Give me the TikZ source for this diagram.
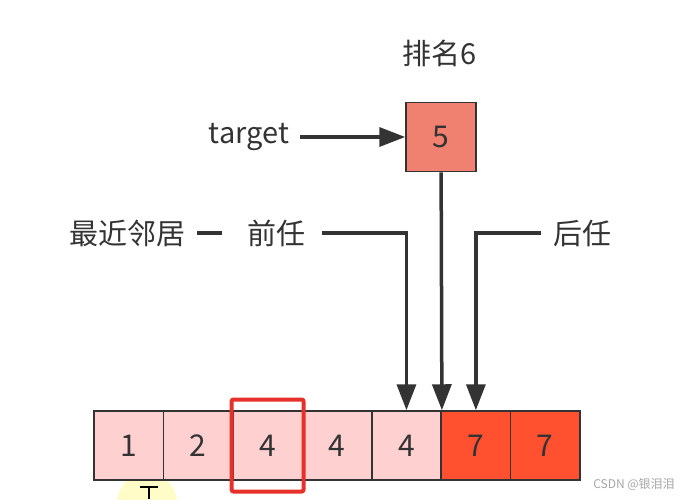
\documentclass[tikz,border=0pt]{standalone}
\usepackage{fontspec}
\setmainfont{Noto Sans CJK SC}
\usetikzlibrary{arrows.meta}
\definecolor{cellpink}{HTML}{FFD0D0}
\definecolor{cellred}{HTML}{FF5030}
\definecolor{boxsalmon}{HTML}{F08070}
\definecolor{linegray}{HTML}{333333}
\definecolor{markred}{HTML}{E8302A}
\begin{document}
\begin{tikzpicture}[x=1pt,y=-1pt,
  cell/.style={draw=linegray,line width=1.5pt,minimum width=69.4pt,minimum height=69pt,inner sep=0pt,font=\fontsize{30}{32}\selectfont,text=linegray},
  lbl/.style={font=\fontsize{29}{32}\selectfont,text=linegray,inner sep=0pt},
  conn/.style={draw=linegray,line width=3.5pt,-{Triangle[length=26pt,width=19pt]}}]
  \useasboundingbox (0,0) rectangle (684,499);
  % cursor mark of the recording
  \fill[yellow!22] (147,503) circle (30);
  \draw[black,line width=2pt] (140,487) -- (158,487) (149,487) -- (149,499);
  % the sorted row
  \foreach \v/\col [count=\i] in {1/cellpink,2/cellpink,4/cellpink,4/cellpink,4/cellpink,7/cellred,7/cellred}{
    \node[cell,fill=\col] (c\i) at (94+\i*69.43-34.7,445.5) {\v};
  }
  \node[draw=markred,line width=4pt,rounded corners=2pt,minimum width=72pt,minimum height=92pt] (mark) at (c3) {};
  % target and its rank
  \node[cell,fill=boxsalmon,minimum width=70pt,minimum height=69pt] (b5) at (441,137) {5};
  \node[lbl] (rank) at (440,53) {排名6};
  \node[lbl] (target) at (249,137) {target};
  \draw[conn,shorten <=11pt] (target) -- (b5);
  \draw[conn] (b5) -- (c5.north east);
  % neighbours
  \node[lbl] (near) at (127,233) {最近邻居};
  \node[lbl] (pred) at (276,233) {前任};
  \node[lbl] (succ) at (582,233) {后任};
  \coordinate (da) at (197,233);
  \coordinate (db) at (222,233);
  \draw[linegray,line width=3.5pt] (da) -- (db);
  \coordinate (ps) at (322,233);
  \coordinate (ss) at (541,233);
  \draw[conn] (ps) -| (c5.north);
  \draw[conn] (ss) -| (c6.north);
  \node[font=\fontsize{12}{13}\selectfont,text=black!35] (wm) at (634,485) {CSDN @银泪泪};
\end{tikzpicture}
\end{document}
